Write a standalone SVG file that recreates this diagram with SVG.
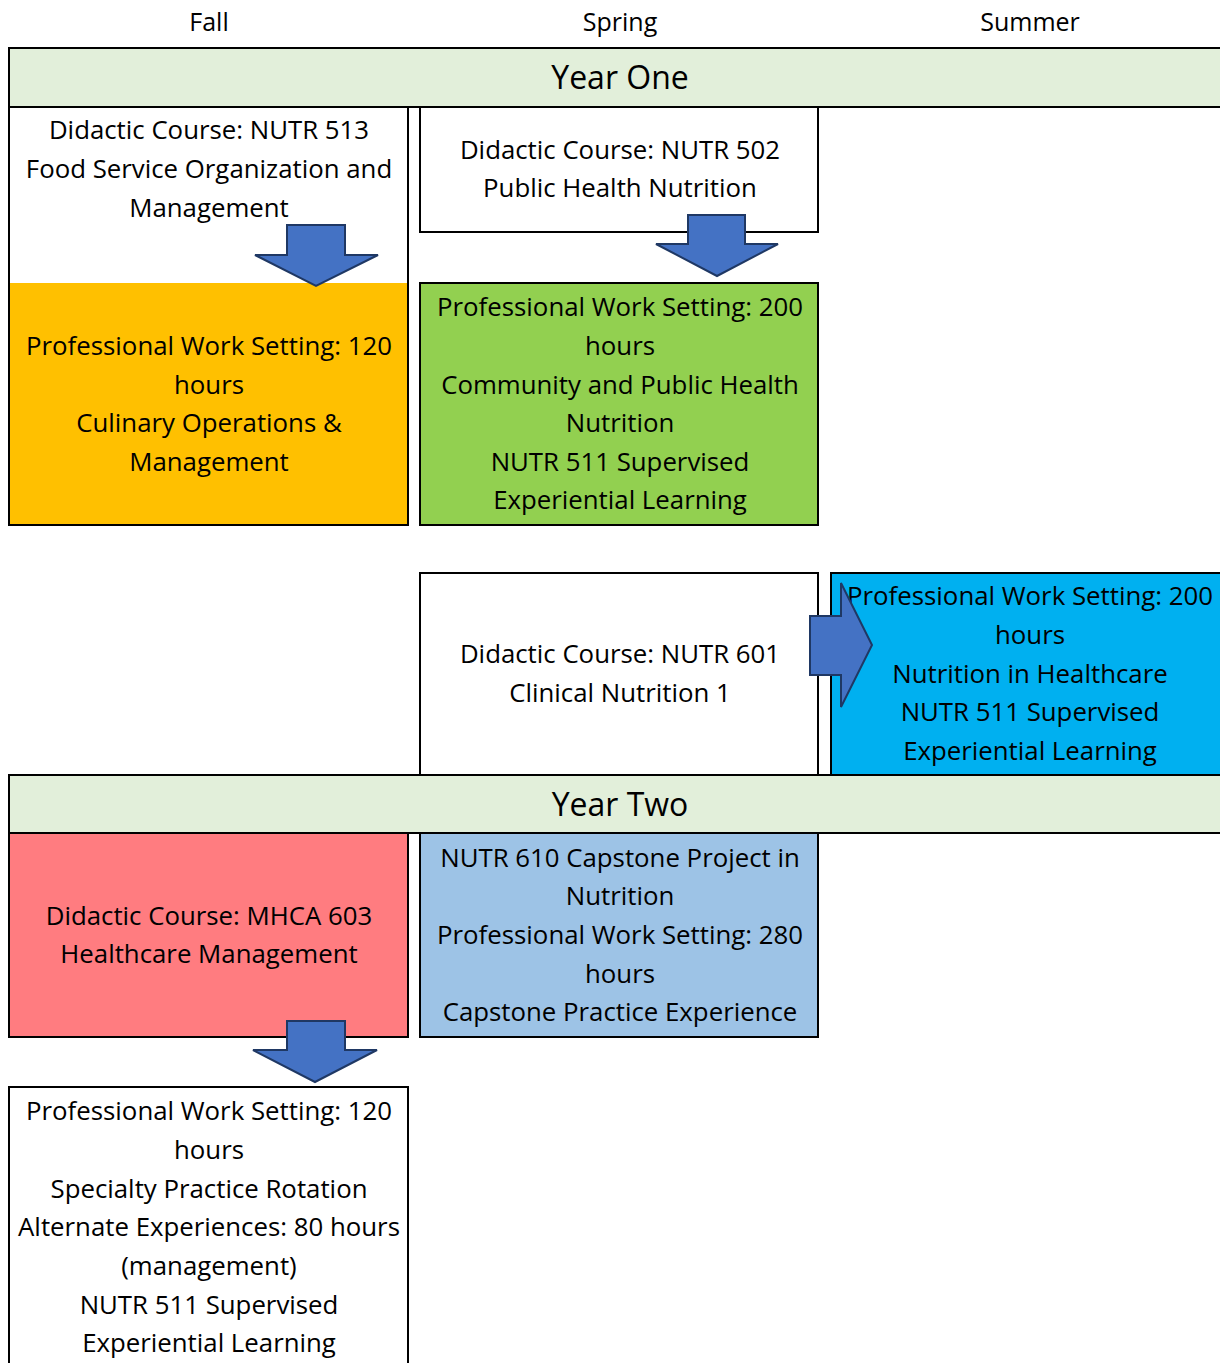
<svg xmlns="http://www.w3.org/2000/svg" width="1220" height="1363" viewBox="0 0 1220 1363">
<style>
text{font-family:"Open Sans","Liberation Sans",sans-serif;font-size:25.8px;fill:#000;text-anchor:middle}
.hdr{font-size:32px}
.col{font-size:25px}
.box{stroke:#000;stroke-width:2}
.edge{fill:none;stroke:#000;stroke-width:2}
.arrow{fill:#4472C4;stroke:#1F3864;stroke-width:2;stroke-linejoin:miter}
</style>
<rect width="1220" height="1363" fill="#fff"/>
<g id="headers">
<text class="col" x="209" y="31">Fall</text>
<text class="col" x="620" y="31">Spring</text>
<text class="col" x="1030" y="31">Summer</text>
</g>
<g id="year-one">
<rect x="9" y="48" width="1212" height="59" fill="#E2EFDA"/>
<path class="edge" d="M1221 48H9V107H1221"/>
<text class="hdr" x="620" y="89">Year One</text>
</g>
<g id="n-nutr513">
<rect class="box" x="9" y="107" width="399" height="418" fill="#fff"/>
<rect x="10" y="283" width="397" height="241" fill="#FFC000"/>
<text x="209" y="139">Didactic Course: NUTR 513</text>
<text x="209" y="178">Food Service Organization and</text>
<text x="209" y="217">Management</text>
<text x="209" y="355">Professional Work Setting: 120</text>
<text x="209" y="394">hours</text>
<text x="209" y="432">Culinary Operations &amp;</text>
<text x="209" y="471">Management</text>
</g>
<g id="n-nutr502">
<rect class="box" x="420" y="107" width="398" height="125" fill="#fff"/>
<text x="620" y="159">Didactic Course: NUTR 502</text>
<text x="620" y="197">Public Health Nutrition</text>
</g>
<g id="n-community">
<rect class="box" x="420" y="283" width="398" height="242" fill="#92D050"/>
<text x="620" y="316">Professional Work Setting: 200</text>
<text x="620" y="355">hours</text>
<text x="620" y="394">Community and Public Health</text>
<text x="620" y="432">Nutrition</text>
<text x="620" y="471">NUTR 511 Supervised</text>
<text x="620" y="509">Experiential Learning</text>
</g>
<g id="n-nutr601">
<rect class="box" x="420" y="573" width="398" height="202" fill="#fff"/>
<text x="620" y="663">Didactic Course: NUTR 601</text>
<text x="620" y="702">Clinical Nutrition 1</text>
</g>
<g id="n-healthcare">
<rect x="831" y="573" width="390" height="202" fill="#00B0F0"/>
<path class="edge" d="M1221 573H831V775"/>
<text x="1030" y="605">Professional Work Setting: 200</text>
<text x="1030" y="644">hours</text>
<text x="1030" y="683">Nutrition in Healthcare</text>
<text x="1030" y="721">NUTR 511 Supervised</text>
<text x="1030" y="760">Experiential Learning</text>
</g>
<g id="year-two">
<rect x="9" y="775" width="1212" height="58" fill="#E2EFDA"/>
<path class="edge" d="M1221 775H9V833H1221"/>
<text class="hdr" x="620" y="816">Year Two</text>
</g>
<g id="n-mhca603">
<rect class="box" x="9" y="833" width="399" height="204" fill="#FF7C80"/>
<text x="209" y="925">Didactic Course: MHCA 603</text>
<text x="209" y="963">Healthcare Management</text>
</g>
<g id="n-capstone">
<rect class="box" x="420" y="833" width="398" height="204" fill="#9DC3E6"/>
<text x="620" y="867">NUTR 610 Capstone Project in</text>
<text x="620" y="905">Nutrition</text>
<text x="620" y="944">Professional Work Setting: 280</text>
<text x="620" y="983">hours</text>
<text x="620" y="1021">Capstone Practice Experience</text>
</g>
<g id="n-specialty">
<rect x="9" y="1087" width="399" height="290" fill="#fff"/>
<path class="edge" d="M9 1370V1087H408V1370"/>
<text x="209" y="1120">Professional Work Setting: 120</text>
<text x="209" y="1159">hours</text>
<text x="209" y="1198">Specialty Practice Rotation</text>
<text x="209" y="1236">Alternate Experiences: 80 hours</text>
<text x="209" y="1275">(management)</text>
<text x="209" y="1314">NUTR 511 Supervised</text>
<text x="209" y="1352">Experiential Learning</text>
</g>
<g id="connectors">
<path class="arrow" d="M287 225H345V255H378L316 286L255 255H287Z"/>
<path class="arrow" d="M688 215H745V244H778L717 276L656 244H688Z"/>
<path class="arrow" d="M810 616H841V583L872 645L841 707V675H810Z"/>
<path class="arrow" d="M287 1021H345V1050H377L315 1082L253 1050H287Z"/>
</g>
</svg>
